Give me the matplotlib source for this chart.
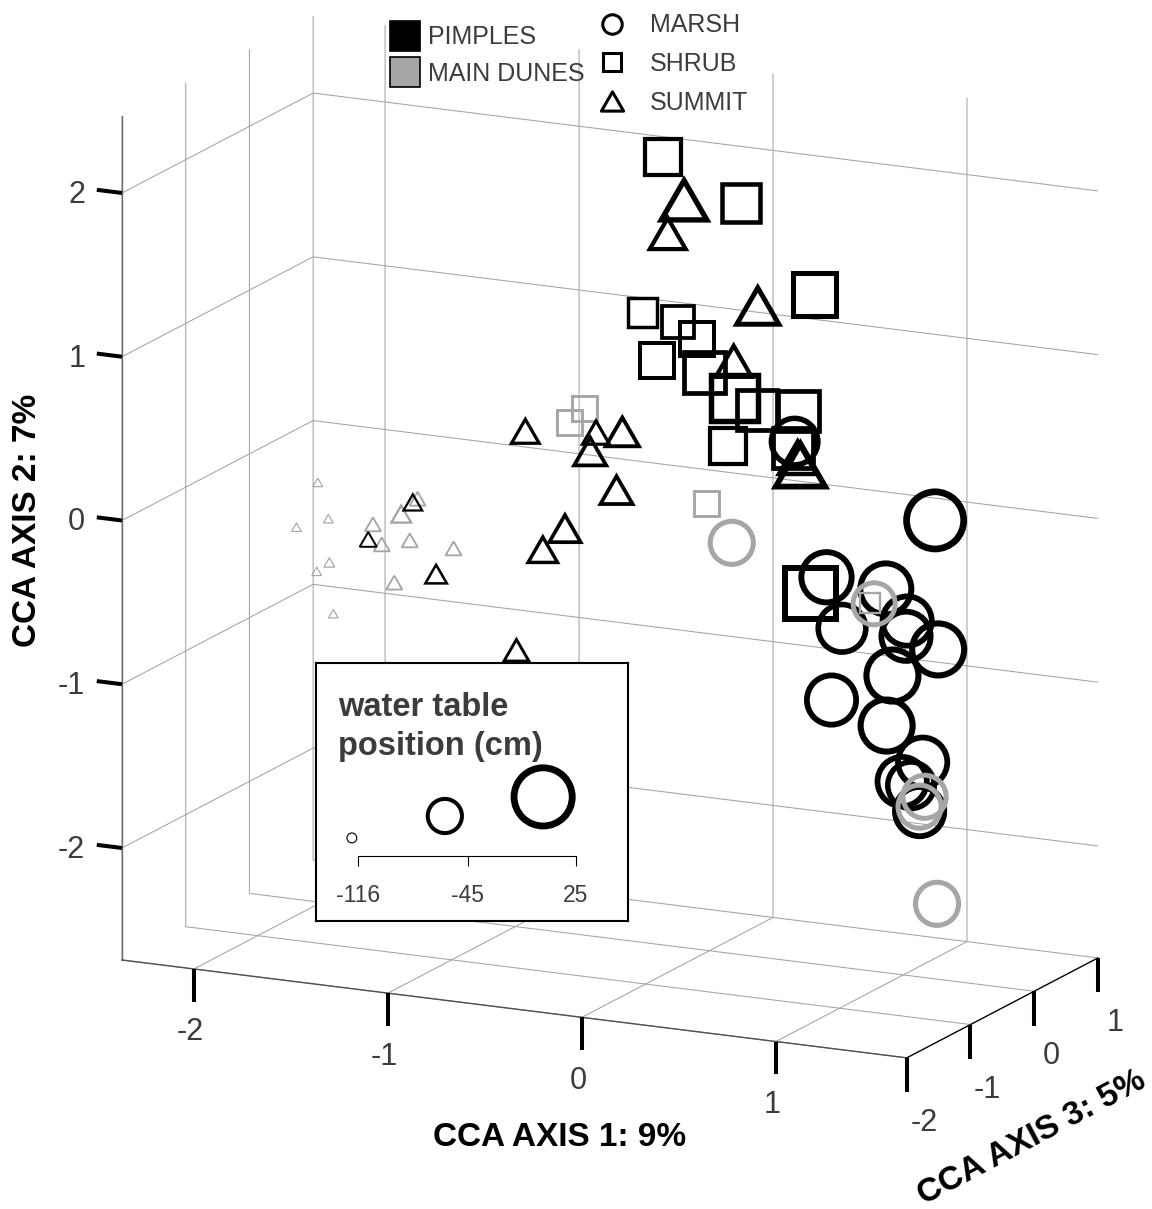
import numpy as np
import matplotlib
matplotlib.use("Agg")
import matplotlib.pyplot as plt
from matplotlib.lines import Line2D
from matplotlib.path import Path
from matplotlib.ticker import NullFormatter

plt.rcParams["font.family"] = ["Liberation Sans", "DejaVu Sans"]
plt.rcParams["grid.color"] = "#a3a3a3"
plt.rcParams["grid.linewidth"] = 0.75
plt.rcParams["grid.linestyle"] = "-"

W, H = 1152, 1209
TXT = "#3c3c3c"
GRAY = "#a6a6a6"

# axis ranges
x_lim = (-2.371, 1.675)   # CCA axis 1
y_lim = (-2.684, 2.47)    # CCA axis 2 (vertical)
z_lim = (-2.0, 1.0)       # CCA axis 3
x_ticks = [-2, -1, 0, 1]
y_ticks = [-2, -1, 0, 1, 2]
z_ticks = [-2, -1, 0, 1]

# ---- sample scores (axis 1, axis 2, axis 3) and water table position (cm) ----
# PIMPLES - MARSH
pim_marsh_x = [1.00, 0.44, 0.44, 0.91, 0.52, 1.02, 0.85, 1.18, 0.78, 0.63, 0.75, 1.10, 0.83, 1.04, 0.92]
pim_marsh_y = [-0.01, 0.49, -0.44, -0.34, -0.74, -0.52, -0.74, -0.67, -0.99, -1.06, -1.30, -1.37, -1.63, -1.52, -1.80]
pim_marsh_z = [0.5, 0.0, 0.5, 0.0, 0.5, 0.0, 0.5, 0.0, 0.5, 0.0, 0.5, 0.0, 0.5, 0.0, 0.5]
pim_marsh_wt = [22, -9, 2, 4, -6, -1, -1, 7, 7, -1, 7, -1, -1, -9, -1]

# MAIN DUNES - MARSH
dun_marsh_x = [0.28, 0.85, 1.11, 0.92, 1.01]
dun_marsh_y = [-0.05, -0.44, -1.58, -1.77, -2.35]
dun_marsh_z = [-0.5, 0.0, 0.0, 0.5, 0.5]
dun_marsh_wt = [-19, -22, -19, -19, -19]

# PIMPLES - SHRUB
pim_shrub_x = [-0.24, 0.00, 0.38, -0.18, -0.16, 0.10, -0.27, 0.14, 0.13, 0.41, 0.46, 0.26, 0.43, 0.36]
pim_shrub_y = [2.13, 1.78, 1.28, 1.29, 1.13, 1.17, 0.88, 0.97, 0.71, 0.78, 0.68, 0.54, 0.45, -0.55]
pim_shrub_z = [0.0, 0.5, 0.5, -0.5, 0.0, -0.5, 0.0, -0.5, 0.0, -0.5, 0.0, -0.5, 0.0, 0.5]
pim_shrub_wt = [-40, -32, -19, -59, -51, -45, -45, -27, -9, -27, -27, -40, -27, 4]

# MAIN DUNES - SHRUB
dun_shrub_x = [-0.48, -0.39, 0.15, 0.83]
dun_shrub_y = [0.66, 0.69, 0.17, -0.44]
dun_shrub_z = [-0.5, -1.0, -0.5, 0.0]
dun_shrub_wt = [-72, -72, -72, -87]

# PIMPLES - SUMMIT
pim_summit_x = [-0.13, -0.05, 0.25, 0.29, 0.47, 0.62, -0.62, -0.42, -0.12, -0.45, -0.15, -0.58, -0.53, -1.08, -0.83, -1.20, -1.43]
pim_summit_y = [1.88, 1.79, 1.29, 1.06, 0.35, 0.52, 0.60, 0.52, 0.67, 0.40, 0.31, -0.09, -0.11, -0.34, -0.87, 0.08, -0.18]
pim_summit_z = [0.0, -0.5, 0.0, -0.5, 0.0, -0.5, -1.0, -0.5, -1.0, -0.5, -1.0, -0.5, -1.0, -1.0, -0.5, -1.0, -1.0]
pim_summit_wt = [-12, -40, -22, -40, -1, -35, -64, -66, -48, -51, -51, -53, -59, -82, -72, -90, -95]

# MAIN DUNES - SUMMIT
dun_summit_x = [-1.69, -1.80, -1.80, -1.57, -1.26, -1.34, -1.36, -1.38, -0.99, -1.63, -1.86, -1.46, -1.61]
dun_summit_y = [0.13, -0.21, -0.16, -0.21, 0.00, -0.02, -0.20, -0.28, -0.17, -0.35, -0.54, -0.55, -0.66]
dun_summit_z = [-1.0, -0.5, -1.0, -0.5, -1.0, -0.5, -1.0, -0.5, -1.0, -1.0, -0.5, -0.5, -1.0]
dun_summit_wt = [-116, -116, -116, -98, -87, -98, -98, -98, -98, -113, -116, -98, -116]

# size legend
legend_wt = [-116, -45, 25]


def marker_px(wt):
    """outer marker size in pixels for a water table value"""
    wt = np.clip(np.asarray(wt, float), -116, None)
    return 11 + (wt + 116) * 0.383


# equilateral triangle marker (bbox centred)
tri = Path([(0, 0.433), (-0.5, -0.433), (0.5, -0.433), (0, 0.433)],
           [Path.MOVETO, Path.LINETO, Path.LINETO, Path.CLOSEPOLY])

fig = plt.figure(figsize=(W / 100, H / 100), dpi=100)
ax = fig.add_axes([0.05, 0.05, 0.9, 0.9], projection="3d", proj_type="ortho")

groups = [
    (pim_marsh_x, pim_marsh_y, pim_marsh_z, pim_marsh_wt, "o", "k"),
    (dun_marsh_x, dun_marsh_y, dun_marsh_z, dun_marsh_wt, "o", GRAY),
    (pim_shrub_x, pim_shrub_y, pim_shrub_z, pim_shrub_wt, "s", "k"),
    (dun_shrub_x, dun_shrub_y, dun_shrub_z, dun_shrub_wt, "s", GRAY),
    (pim_summit_x, pim_summit_y, pim_summit_z, pim_summit_wt, tri, "k"),
    (dun_summit_x, dun_summit_y, dun_summit_z, dun_summit_wt, tri, GRAY),
]
for gx, gy, gz, gwt, mk, col in groups:
    d = marker_px(gwt)
    # mpl 3d: x = axis 1, y = axis 3, z (vertical) = axis 2
    ax.scatter(gx, gz, gy, s=(0.895 * d * 0.72) ** 2, marker=mk,
               facecolors="none", edgecolors=col, linewidths=0.105 * d * 0.72,
               depthshade=False, joinstyle="miter")

x0, x1 = x_lim
y0, y1 = y_lim
z0, z1 = z_lim

# axis lines
ax.plot([x0, x0], [z0, z0], [y0, y1], color="#6b6b6b", lw=1.0)
ax.plot([x0, x1], [z0, z0], [y0, y0], color="#505050", lw=1.0)
ax.plot([x1, x1], [z0, z1], [y0, y0], color="k", lw=1.0)

# MATLAB-like thick tick marks
tick_kw = dict(color="k", lw=2.9, solid_capstyle="butt")
for v in y_ticks:
    ax.plot([x0, x0 - 0.13], [z0, z0], [v, v], **tick_kw)
for v in x_ticks:
    ax.plot([v, v], [z0, z0], [y0, y0 - 0.2], **tick_kw)
for v in z_ticks:
    ax.plot([x1, x1], [v, v], [y0, y0 - 0.21], **tick_kw)

ax.set_xlim(*x_lim)
ax.set_ylim(*z_lim)
ax.set_zlim(*y_lim)
ax.set_xticks(x_ticks)
ax.set_yticks(z_ticks)
ax.set_zticks(y_ticks)
px_per_unit = (215.9, 145.2, 169.4)
ax.set_box_aspect(((x1 - x0) * px_per_unit[0], (z1 - z0) * px_per_unit[1],
                   (y1 - y0) * px_per_unit[2]))
ax.view_init(elev=14.79, azim=-63.97)
for axis in (ax.xaxis, ax.yaxis, ax.zaxis):
    axis.set_pane_color((1, 1, 1, 0))
    axis.line.set_color((0, 0, 0, 0))
    axis.set_major_formatter(NullFormatter())
    axis.set_tick_params(which="both", labelbottom=False, labeltop=False,
                         labelleft=False, labelright=False)
    axis.label.set_visible(False)
    axis.offsetText.set_visible(False)
    axis._axinfo["tick"]["inward_factor"] = 0
    axis._axinfo["tick"]["outward_factor"] = 0

# axis titles
fig.text(560 / W, 1 - 1137 / H, "CCA AXIS 1: 9%", ha="center", va="center",
         fontsize=24, fontweight="bold")
fig.text(28 / W, 1 - 520 / H, "CCA AXIS 2: 7%", ha="center", va="center",
         fontsize=24, fontweight="bold", rotation=90)
fig.text(1032 / W, 1 - 1138 / H, "CCA AXIS 3: 5%", ha="center", va="center",
         fontsize=24, fontweight="bold", rotation=28, rotation_mode="anchor")

# legends at the top
site_handles = [Line2D([], [], ls="none", marker="s", ms=21, mfc="k", mec="k", mew=1.2),
                Line2D([], [], ls="none", marker="s", ms=21, mfc=GRAY, mec="k", mew=1.2)]
fig.legend(site_handles, ["PIMPLES", "MAIN DUNES"], loc="upper left",
           bbox_to_anchor=(392.5 / W, 1 - 25.5 / H), frameon=False, fontsize=18,
           handlelength=1.0, handletextpad=0.42, labelspacing=0.5,
           borderpad=0, borderaxespad=0, labelcolor=TXT)
hab_handles = [Line2D([], [], ls="none", marker="o", ms=14, mfc="none", mec="k", mew=2.2),
               Line2D([], [], ls="none", marker="s", ms=13.5, mfc="none", mec="k", mew=2.2),
               Line2D([], [], ls="none", marker=tri, ms=16, mfc="none", mec="k", mew=2.2)]
fig.legend(hab_handles, ["MARSH", "SHRUB", "SUMMIT"], loc="upper left",
           bbox_to_anchor=(599.5 / W, 1 - 13.5 / H), frameon=False, fontsize=18,
           handlelength=1.0, handletextpad=1.02, labelspacing=0.58,
           borderpad=0, borderaxespad=0, labelcolor=TXT)

# water table size legend
lg = fig.add_axes([316 / W, 1 - 921 / H, 312 / W, 258 / H])
lg.set_xlim(0, 1)
lg.set_ylim(0, 1)
lg.set_xticks([])
lg.set_yticks([])
for sp in lg.spines.values():
    sp.set_linewidth(1.5)
    sp.set_color("k")
lg.text(0.07, (921 - 707) / 258, "water table", fontsize=23.5, fontweight="bold",
        color=TXT, va="center", ha="left")
lg.text(0.07, (921 - 747) / 258, "position (cm)", fontsize=23.5, fontweight="bold",
        color=TXT, va="center", ha="left")
leg_cx = [0.115, 0.413, 0.728]
leg_cy = [0.322, 0.407, 0.481]
ld = marker_px(legend_wt)
lg.scatter(leg_cx, leg_cy, s=(0.895 * ld * 0.72) ** 2, facecolors="none",
           edgecolors="k", linewidths=0.105 * ld * 0.72)

sc = fig.add_axes([358 / W, 1 - 856 / H, 218 / W, 0.001])
sc.set_xlim(-116, 25)
sc.set_xticks(legend_wt)
sc.set_xticklabels([f"{v}" for v in legend_wt])
sc.set_yticks([])
for side in ("top", "left", "right"):
    sc.spines[side].set_visible(False)
sc.spines["bottom"].set_linewidth(0.8)
sc.patch.set_alpha(0)
sc.tick_params(axis="x", direction="out", length=7.2, width=0.8, pad=13,
               labelsize=16.5, labelcolor=TXT)

# place the 3d box: front-left edge runs from (122, 960) to (122, 116) px
fig.canvas.draw()


def screen(px, py, pz):
    p = ax.get_proj() @ np.array([px, py, pz, 1.0])
    return ax.transData.transform((p[0] / p[3], p[1] / p[3]))


A = screen(x0, z0, y0)
B = screen(x0, z0, y1)
At = np.array([122.0, H - 960.0])
Bt = np.array([122.0, H - 116.0])
k = (Bt[1] - At[1]) / (B[1] - A[1])
bb = ax.get_position()
C = np.array([(bb.x0 + bb.x1) / 2 * W, (bb.y0 + bb.y1) / 2 * H])
size = bb.width * W * k
Cn = At - k * (A - C)
ax.set_position([(Cn[0] - size / 2) / W, (Cn[1] - size / 2) / H, size / W, size / H])
fig.canvas.draw()

# tick labels, placed at the projected tick positions
lab_kw = dict(fontsize=22, color=TXT, va="center")
for v in y_ticks:
    p = screen(x0 - 0.19, z0, v - 0.04)
    fig.text(p[0] / W, p[1] / H, f"{v:g}", ha="right", **lab_kw)
for v in x_ticks:
    p = screen(v, z0 - 0.06, y0 - 0.375)
    fig.text(p[0] / W, p[1] / H, f"{v:g}", ha="center", **lab_kw)
for v in z_ticks:
    p = screen(x1 + 0.088, v, y0 - 0.385)
    fig.text(p[0] / W, p[1] / H, f"{v:g}", ha="center", **lab_kw)

fig.savefig("out.png", dpi=100)
